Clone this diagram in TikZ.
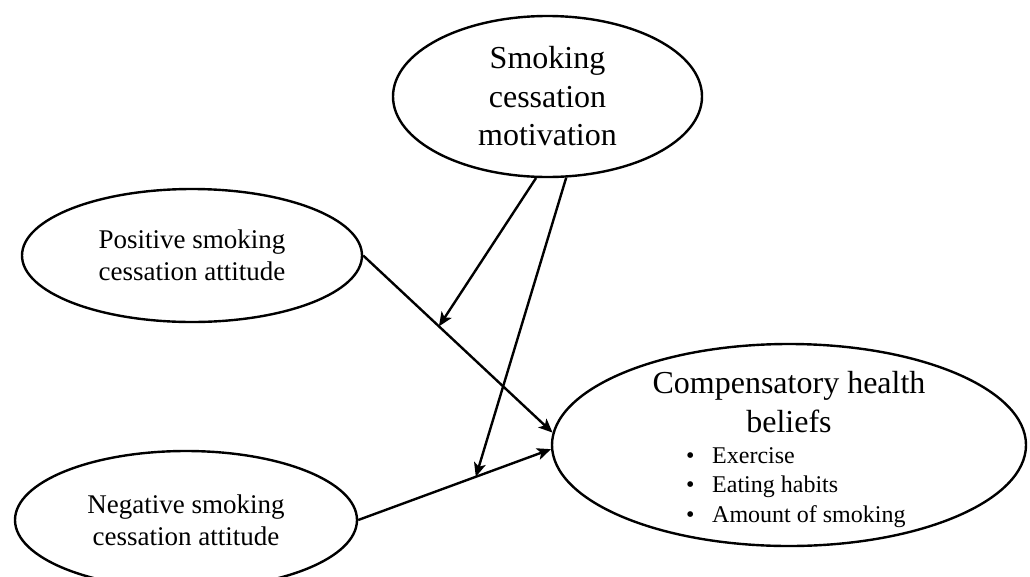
\documentclass[tikz,border=0pt]{standalone}
\usepackage{fontspec}
\setmainfont{Liberation Serif}
\usetikzlibrary{positioning,shapes.geometric,arrows.meta}
\tikzstyle{oval} = [ellipse, draw=black, line width=2.4pt, inner sep=0pt, align=center, text centered]
\tikzstyle{bigtext} = [font=\fontsize{32}{38.5}\selectfont]
\tikzstyle{smalltext} = [font=\fontsize{27}{32}\selectfont]
\tikzstyle{listtext} = [font=\fontsize{24}{29.5}\selectfont]
\tikzstyle{line} = [draw, line width=2.4pt, -{Stealth[length=14pt,width=12pt,inset=3.5pt]}]

\begin{document}
\begin{tikzpicture}[x=1pt, y=-1pt]
	\useasboundingbox (0,0) rectangle (1030,576);
	% Place nodes
	\node [oval, bigtext, minimum width=309pt, minimum height=161pt] (motiv) at (547.5,96.5) {Smoking\\cessation\\motivation};
	\node [oval, smalltext, minimum width=340pt, minimum height=133pt] (posatt) at (192,255.5) {Positive smoking\\cessation attitude};
	\node [oval, smalltext, minimum width=342pt, minimum height=138pt] (negatt) at (186,520) {Negative smoking\\cessation attitude};
	\node [oval, minimum width=474pt, minimum height=202pt] (chb) at (789,445) {};
	\node [bigtext, align=center, inner sep=0pt] (chbtitle) at (789,402) {Compensatory health\\beliefs};
	\node [listtext, align=left, inner sep=0pt, anchor=north west] (chblist) at (685.8,447) {\textbullet\hspace{17.8pt}Exercise\\\textbullet\hspace{17.8pt}Eating habits\\\textbullet\hspace{17.8pt}Amount of smoking};
	% Draw edges
	\path [line] (posatt.east) -- coordinate[pos=0.4] (posmid) (chb.177);
	\path [line] (negatt.east) -- coordinate[pos=0.61] (negmid) (chb.181);
	\path [line] (motiv.262) -- (posmid);
	\path [line] (motiv.283) -- (negmid);
\end{tikzpicture}
\end{document}
